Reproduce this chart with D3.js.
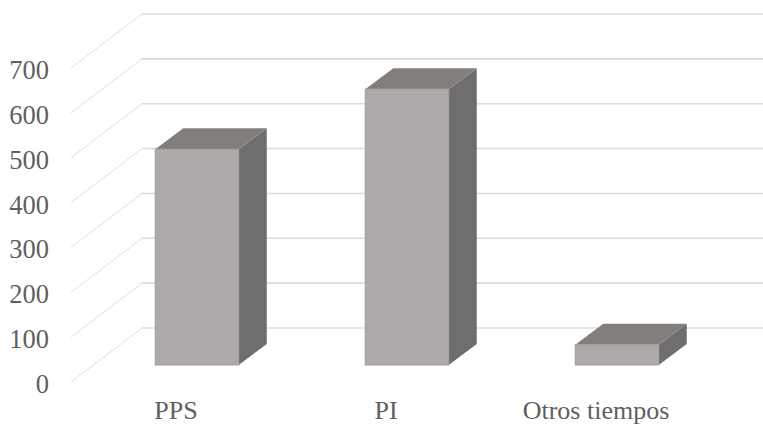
<!DOCTYPE html>
<html><head><meta charset="utf-8">
<script src="https://cdn.jsdelivr.net/npm/d3@7"></script>
<style>html,body{margin:0;padding:0;background:#fff;overflow:hidden}svg{display:block}</style>
</head><body><div id="c"></div>
<script>
const categories = ["PPS", "PI", "Otros tiempos"];
const values = [481, 615, 45];
const ticks = [0, 100, 200, 300, 400, 500, 600, 700];

const W = 763, H = 425;
const svg = d3.select("#c").append("svg").attr("width", W).attr("height", H);
const x = d3.scaleBand().domain(categories).range([71, 701]);
const y = d3.scaleLinear().domain([0, 700]).range([382, 68]);
const depth = {dx: 71, dy: -54};
const floor = {dx: 21, dy: -17};
const barW = 83.5, bar = {dx: 28, dy: -21};
const font = "'Liberation Serif','Times New Roman',serif";

const grid = svg.append("g");
ticks.forEach(t => {
  grid.append("line").attr("x1", x.range()[0]).attr("y1", y(t))
    .attr("x2", x.range()[0] + depth.dx).attr("y2", y(t) + depth.dy)
    .attr("stroke", "#dedede").attr("stroke-width", 1);
  grid.append("line").attr("x1", x.range()[0] + depth.dx).attr("y1", y(t) + depth.dy)
    .attr("x2", W).attr("y2", y(t) + depth.dy)
    .attr("stroke", "#dcdcdc").attr("stroke-width", 1.6);
});

const pts = a => a.map(p => p.join(",")).join(" ");
const bars = svg.append("g").selectAll("g").data(categories).join("g");
bars.each(function(c, i) {
  const g = d3.select(this);
  const l = x(c) + x.bandwidth() / 2 + floor.dx - barW / 2, r = l + barW;
  const t = y(values[i]) + floor.dy, b = y(0) + floor.dy;
  g.append("polygon").attr("points", pts([[r, t], [r + bar.dx, t + bar.dy], [r + bar.dx, b + bar.dy], [r, b]])).attr("fill", "#6f6d6d");
  g.append("polygon").attr("points", pts([[l, t], [l + bar.dx, t + bar.dy], [r + bar.dx, t + bar.dy], [r, t]])).attr("fill", "#827e7c");
  g.append("rect").attr("x", l).attr("y", t).attr("width", barW).attr("height", b - t)
    .attr("fill", "#aeaaa9").attr("stroke", "#a19d9c").attr("stroke-width", 1);
});

const yAxis = svg.append("g").attr("font-family", font).attr("font-size", 26.5).attr("fill", "#5f5f5f");
yAxis.selectAll("text").data(ticks).join("text")
  .attr("x", 49).attr("y", d => y(d) + 11).attr("text-anchor", "end").text(d => d);

const xAxis = svg.append("g").attr("font-family", font).attr("font-size", 26).attr("fill", "#5f5f5f");
xAxis.selectAll("text").data(categories).join("text")
  .attr("x", d => x(d) + x.bandwidth() / 2).attr("y", 419).attr("text-anchor", "middle").text(d => d);
</script></body></html>
